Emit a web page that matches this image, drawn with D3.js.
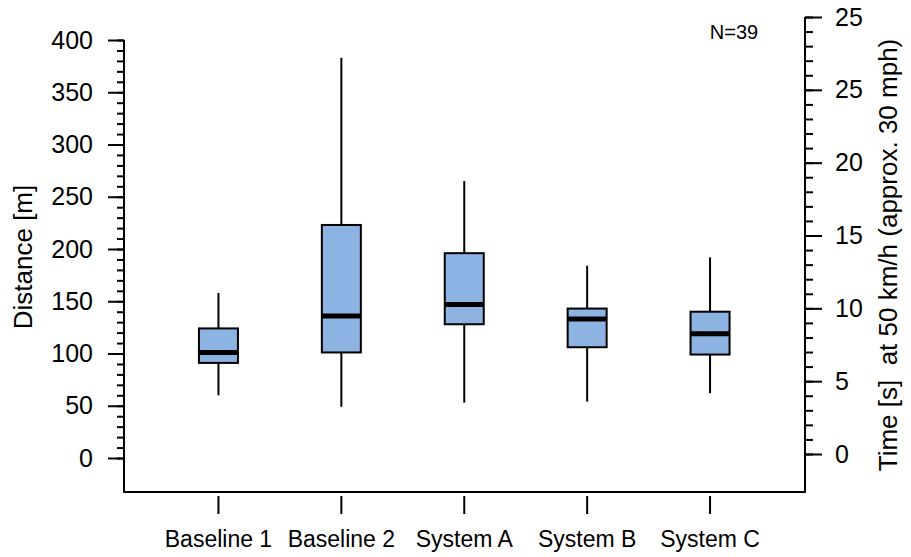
<!DOCTYPE html>
<html>
<head>
    <meta charset="utf-8">
    <title>Distance / time boxplots</title>
    <script src="https://d3js.org/d3.v7.min.js"></script>
    <style>
        body { margin: 0; background: #fff; }
        svg { display: block; font-family: "Liberation Sans", Arial, sans-serif; }
        .tick text { fill: #000; }
    </style>
</head>
<body>
<svg id="chart" width="911" height="557"></svg>

<script>
    // data (distance in metres)
    const categories = ["Baseline 1", "Baseline 2", "System A", "System B", "System C"];
    const whiskerLow  = [60, 49, 53, 54, 62];
    const q1          = [91, 101, 128, 106, 99];
    const medians     = [101, 136, 147, 133, 119];
    const q3          = [124, 223, 196, 143, 140];
    const whiskerHigh = [158, 383, 265, 184, 192];

    const leftTicks = [0, 50, 100, 150, 200, 250, 300, 350, 400];
    const rightTicks = [0, 5, 10, 15, 20, 25, 30];
    const rightTickLabels = ["0", "5", "10", "15", "20", "25", "25"]; // as printed in the original

    const svg = d3.select("#chart");

    const x = d3.scaleBand().domain(categories).range([157, 771.5]);
    const yLeft = d3.scaleLinear().domain([0, 400]).range([458, 40]);
    const yRight = d3.scaleLinear().domain([0, 30]).range([454, 17]);
    const boxWidth = 39;

    // frame: left axis, bottom, right axis
    svg.append("path")
        .attr("d", "M124,40 V492 H805 V17")
        .attr("fill", "none")
        .attr("stroke", "#000")
        .attr("stroke-width", 2);

    // left axis, minor then major ticks
    svg.append("g")
        .attr("transform", "translate(124,0)")
        .call(d3.axisLeft(yLeft).tickValues(d3.range(0, 401, 10)).tickSize(7).tickFormat(""))
        .call(g => g.select(".domain").remove())
        .call(g => g.selectAll("line").attr("stroke", "#000").attr("stroke-width", 2));

    svg.append("g")
        .attr("transform", "translate(124,0)")
        .call(d3.axisLeft(yLeft).tickValues(leftTicks).tickSize(16).tickPadding(15))
        .call(g => g.select(".domain").remove())
        .call(g => g.selectAll("line").attr("stroke", "#000").attr("stroke-width", 2))
        .call(g => g.selectAll("text").attr("font-size", "25px").attr("font-family", "Liberation Sans, Arial, sans-serif"));

    // right axis (time)
    svg.append("g")
        .attr("transform", "translate(805,0)")
        .call(d3.axisRight(yRight).tickValues(d3.range(0, 31, 1)).tickSize(8).tickFormat(""))
        .call(g => g.select(".domain").remove())
        .call(g => g.selectAll("line").attr("stroke", "#000").attr("stroke-width", 2));

    svg.append("g")
        .attr("transform", "translate(805,0)")
        .call(d3.axisRight(yRight).tickValues(rightTicks).tickSize(17)
            .tickPadding(13).tickFormat((d, i) => rightTickLabels[i]))
        .call(g => g.select(".domain").remove())
        .call(g => g.selectAll("line").attr("stroke", "#000").attr("stroke-width", 2))
        .call(g => g.selectAll("text").attr("font-size", "25px").attr("font-family", "Liberation Sans, Arial, sans-serif"));

    // bottom axis, ticks sit a little below the frame
    svg.append("g")
        .attr("transform", "translate(0,496)")
        .call(d3.axisBottom(x).tickSize(18).tickPadding(17))
        .call(g => g.select(".domain").remove())
        .call(g => g.selectAll("line").attr("stroke", "#000").attr("stroke-width", 2))
        .call(g => g.selectAll("text").attr("font-size", "23px").attr("font-family", "Liberation Sans, Arial, sans-serif"));

    // boxes
    const boxes = svg.append("g").selectAll("g")
        .data(categories)
        .join("g")
        .attr("transform", d => `translate(${x(d) + x.bandwidth() / 2},0)`);

    boxes.append("line")
        .attr("x1", 0).attr("x2", 0)
        .attr("y1", (d, i) => yLeft(whiskerHigh[i]))
        .attr("y2", (d, i) => yLeft(q3[i]))
        .attr("stroke", "#000").attr("stroke-width", 2);

    boxes.append("line")
        .attr("x1", 0).attr("x2", 0)
        .attr("y1", (d, i) => yLeft(q1[i]))
        .attr("y2", (d, i) => yLeft(whiskerLow[i]))
        .attr("stroke", "#000").attr("stroke-width", 2);

    boxes.append("rect")
        .attr("x", -boxWidth / 2)
        .attr("width", boxWidth)
        .attr("y", (d, i) => yLeft(q3[i]))
        .attr("height", (d, i) => yLeft(q1[i]) - yLeft(q3[i]))
        .attr("fill", "#8db3e2")
        .attr("stroke", "#000")
        .attr("stroke-width", 2);

    boxes.append("line")
        .attr("x1", -boxWidth / 2).attr("x2", boxWidth / 2)
        .attr("y1", (d, i) => yLeft(medians[i]))
        .attr("y2", (d, i) => yLeft(medians[i]))
        .attr("stroke", "#000").attr("stroke-width", 5);

    // axis titles
    svg.append("text")
        .attr("transform", "translate(32,257) rotate(-90)")
        .attr("text-anchor", "middle")
        .attr("font-size", "26px")
        .text("Distance [m]");

    svg.append("text")
        .attr("transform", "translate(897,255) rotate(-90)")
        .attr("text-anchor", "middle")
        .attr("font-size", "26px")
        .attr("xml:space", "preserve")
        .style("white-space", "pre")
        .text("Time [s]  at 50 km/h (approx. 30 mph)");

    svg.append("text")
        .attr("x", 734)
        .attr("y", 39)
        .attr("text-anchor", "middle")
        .attr("font-size", "20px")
        .text("N=39");
</script>
</body>
</html>
